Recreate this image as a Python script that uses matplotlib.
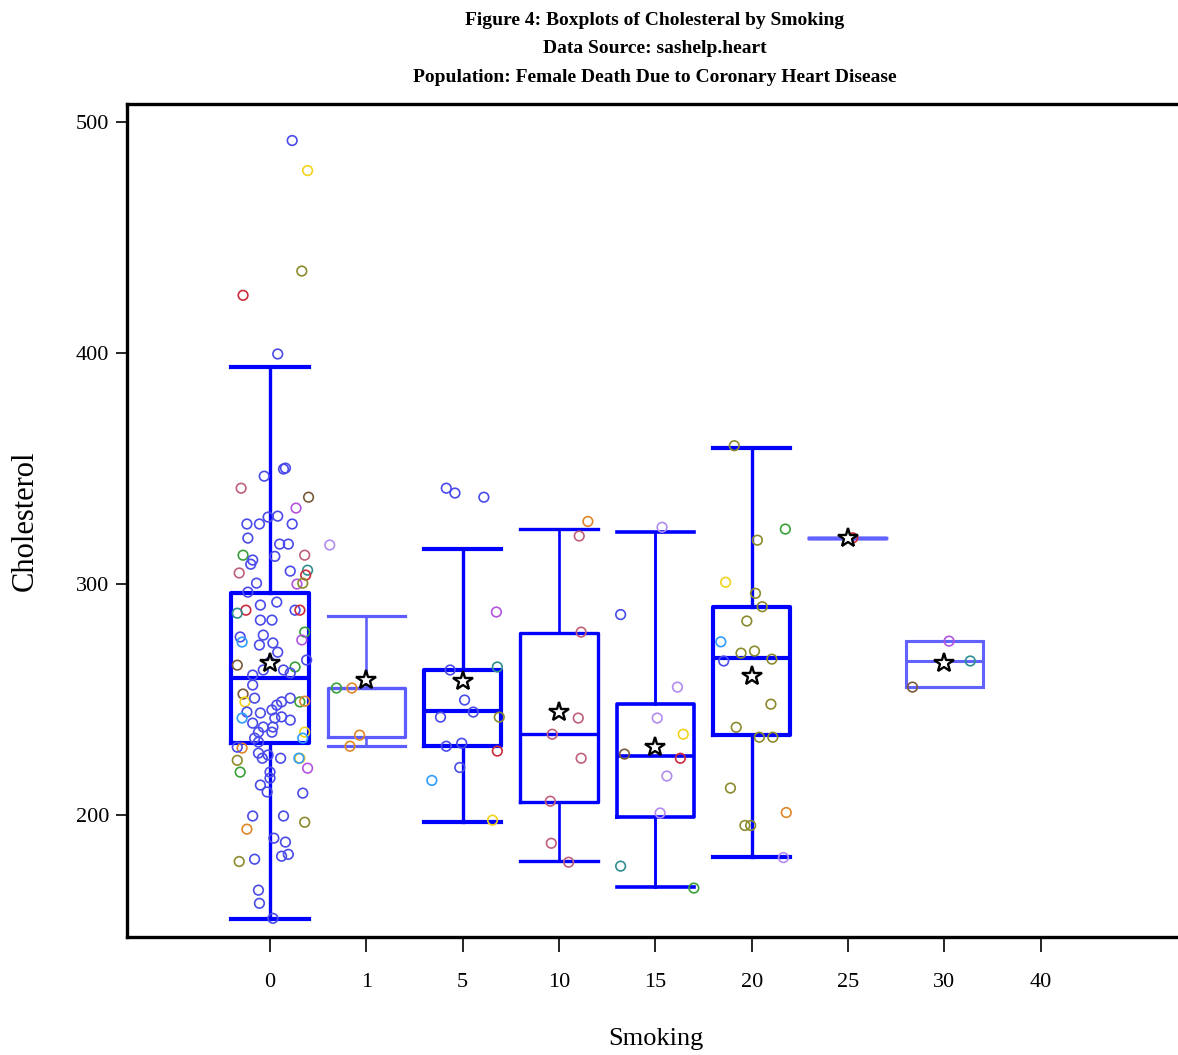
import matplotlib
matplotlib.use("Agg")
import matplotlib.pyplot as plt

# smoking levels (tick labels) and box statistics
smoking = ['0', '1', '5', '10', '15', '20', '25', '30', '40']
box_levels = ['0', '1', '5', '10', '15', '20', '25', '30']
whis_lo = [155, 230, 197, 180, 169, 182, 320, 255.4]
q1 = [231, 234, 230, 205.6, 199, 234.6, 320, 255.4]
median = [259.3, 255, 245, 235, 225.5, 268, 320, 266.7]
q3 = [296, 255, 263, 279, 248, 290, 320, 275.3]
whis_hi = [394, 286, 315, 324, 322.5, 359, 320, 275.3]
mean = [266, 258.5, 258, 244.6, 229.5, 260, 320, 266]

# individual cholesterol values, their horizontal jitter and colour group
chol = {
    '0': [492, 479, 435.5, 425, 399.6, 350.2, 349.8, 346.7, 341.5, 337.6, 332.9, 329.4, 329, 326, 326, 326,
          319.9, 317.3, 317.3, 312.5, 312.5, 312, 310.4, 308.6, 304.8, 306, 303.9, 305.6, 300.4, 300, 300.4,
          296.5, 290.9, 292.2, 288.7, 287.4, 288.7, 288.7, 284.4, 284.4, 277.1, 274.9, 279.2, 275.8, 277.9,
          273.6, 274.5, 270.5, 267.1, 264.9, 264.1, 266.2, 262.8, 261.5, 260.6, 262.8, 252.4, 249, 256.3,
          250.6, 247.6, 250.6, 249, 249, 249.3, 244.6, 242, 244.2, 245.5, 242, 242.5, 241.1, 239.8, 238.1,
          238.1, 235.9, 235.9, 233.3, 231.6, 235.9, 233.3, 229, 229.4, 226.8, 224.6, 226, 224.6, 224.6,
          224.6, 220.3, 223.7, 218.6, 218.6, 216, 213, 210, 209.5, 199.6, 199.6, 196.9, 193.9, 190, 188.3,
          182.2, 183, 179.9, 180.9, 167.5, 161.8, 155.3],
    '1': [316.9, 255, 255, 234.6, 229.8],
    '5': [341.5, 339.4, 337.6, 287.9, 262.8, 264.1, 249.8, 244.6, 242.4, 242.4, 229.8, 231.1, 227.7, 220.6,
          215, 197.8],
    '10': [327.1, 320.8, 279.2, 242, 235, 224.6, 206, 187.8, 179.6],
    '15': [324.6, 286.8, 255.4, 242, 235, 226.4, 224.6, 216.9, 200.9, 177.9, 168.4],
    '20': [359.9, 323.8, 319, 300.8, 296, 290.2, 284, 275, 270.1, 271, 266.7, 267.5, 248, 238, 233.7, 233.7,
           211.7, 201.1, 195.5, 195.5, 181.6],
    '25': [320],
    '30': [275.3, 266.7, 255.4],
}
jitter = {
    '0': [0.23, 0.39, 0.33, -0.28, 0.08, 0.16, 0.14, -0.06, -0.30, 0.40, 0.27, 0.08, -0.02, -0.24, -0.11, 0.23,
          -0.23, 0.10, 0.19, -0.28, 0.36, 0.05, -0.18, -0.20, -0.32, 0.39, 0.37, 0.21, -0.14, 0.28, 0.34,
          -0.23, -0.10, 0.07, -0.25, -0.34, 0.26, 0.31, -0.10, 0.02, -0.31, -0.29, 0.36, 0.33, -0.07,
          -0.11, 0.03, 0.08, 0.38, -0.34, 0.26, 0.0, 0.14, 0.21, -0.18, -0.07, -0.28, -0.26, -0.18,
          -0.16, 0.07, 0.21, 0.12, 0.31, 0.36, -0.24, -0.29, -0.10, 0.02, 0.05, 0.12, 0.21, -0.18, -0.07,
          0.03, -0.12, 0.02, -0.16, -0.12, 0.36, 0.34, -0.29, -0.34, -0.12, -0.08, -0.02, 0.11, 0.31,
          0.30, 0.39, -0.34, -0.31, 0.0, 0.0, -0.10, -0.03, 0.34, -0.18, 0.14, 0.36, -0.24, 0.04, 0.16,
          0.12, 0.19, -0.32, -0.16, -0.12, -0.11, 0.03],
    '1': [-0.38, -0.31, -0.15, -0.07, -0.17],
    '5': [-0.17, -0.08, 0.22, 0.35, -0.13, 0.36, 0.02, 0.11, -0.23, 0.38, -0.17, -0.01, 0.36, -0.03,
          -0.32, 0.31],
    '10': [0.30, 0.21, 0.23, 0.20, -0.07, 0.23, -0.09, -0.08, 0.10],
    '15': [0.07, -0.36, 0.23, 0.02, 0.29, -0.32, 0.26, 0.12, 0.05, -0.36, 0.40],
    '20': [-0.18, 0.35, 0.06, -0.27, 0.04, 0.11, -0.05, -0.32, -0.11, 0.03, -0.29, 0.21, 0.20, -0.16, 0.08,
           0.22, -0.22, 0.36, -0.07, -0.01, 0.33],
    '25': [0.05],
    '30': [0.05, 0.27, -0.33],
}
group = {
    '0': list('byorb') + ['b', 'b', 'b', 'm', 'n', 'p', 'b', 'b', 'b', 'b', 'b', 'b', 'b', 'b', 'g', 'm', 'b',
                          'b', 'b', 'm', 't', 'r', 'b', 'b', 'p', 'o', 'b', 'b', 'b', 'r', 't', 'b', 'r', 'b',
                          'b', 'b', 'c', 'g', 'p', 'b', 'b', 'b', 'b', 'b', 'n', 'g', 'b', 'b', 'b', 'b', 'b',
                          'n', 'y', 'b', 'b', 'b', 'b', 'b', 'g', 'a', 'b', 'c', 'b', 'b', 'b', 'b', 'b', 'b',
                          'b', 'b', 'b', 'b', 'b', 'b', 'y', 'c', 'a', 'b', 'b', 'b', 'b', 'b', 'y', 'c', 'p',
                          'o', 'g', 'b', 'b', 'b', 'b', 'b', 'b', 'b', 'o', 'a', 'b', 'b', 'b', 'b', 'o', 'b',
                          'b', 'b', 'b'],
    '1': ['l', 'g', 'a', 'a', 'a'],
    '5': ['b', 'b', 'b', 'p', 'b', 't', 'b', 'b', 'b', 'o', 'b', 'b', 'r', 'b', 'c', 'y'],
    '10': ['a', 'm', 'm', 'm', 'm', 'm', 'm', 'm', 'm'],
    '15': ['l', 'b', 'l', 'l', 'y', 'n', 'r', 'l', 'l', 't', 'g'],
    '20': ['o', 'g', 'o', 'y', 'o', 'o', 'o', 'c', 'o', 'o', 'b', 'o', 'o', 'o', 'o', 'o', 'o', 'a', 'o', 'o',
           'l'],
    '25': ['r'],
    '30': ['p', 't', 'n'],
}

palette = {'b': '#4b4bea', 'y': '#f2d31c', 'o': '#8c8c2e', 'r': '#cc2b3b', 'm': '#c0607a',
           'n': '#7a5a3a', 'p': '#b455dd', 'g': '#3aa03a', 't': '#2f8f8f', 'c': '#2f9cff',
           'a': '#e0872a', 'l': '#b38cf0'}
box_color = ['#0000ff', '#5c5cff', '#0000ff', '#0000ff', '#0000ff', '#0000ff', '#6262ff', '#6262ff']
box_lw = [3.0, 2.3, 3.0, 2.4, 2.6, 3.0, 2.4, 2.2]

serif = ['Liberation Serif', 'DejaVu Serif']

fig = plt.figure(figsize=(11.78, 10.55), dpi=100)
ax = fig.add_axes([0.1078, 0.1118, 0.8982, 0.7896])

for i, lev in enumerate(box_levels):
    stats = [dict(med=median[i], q1=q1[i], q3=q3[i], whislo=whis_lo[i], whishi=whis_hi[i], mean=mean[i])]
    lw = box_lw[i]
    col = box_color[i]
    ax.bxp(stats, positions=[i], widths=0.8, capwidths=0.8, showmeans=True, showfliers=False,
           boxprops=dict(color=col, linewidth=lw),
           medianprops=dict(color=col, linewidth=lw),
           whiskerprops=dict(color=col, linewidth=lw * 0.8),
           capprops=dict(color=col, linewidth=lw),
           meanprops=dict(marker='*', markersize=15, markerfacecolor='white',
                          markeredgecolor='black', markeredgewidth=1.7, zorder=6),
           manage_ticks=False)
    xs = [i + d for d in jitter[lev]]
    ax.scatter(xs, chol[lev], s=48, facecolors='none',
               edgecolors=[palette[g] for g in group[lev]], linewidths=1.2, zorder=4)

ax.set_xlim(-1.485, 9.5)
ax.set_ylim(147.2, 507.8)
ax.set_xticks(range(len(smoking)))
ax.set_xticklabels(smoking, fontsize=16, family=serif)
ax.set_yticks([200, 300, 400, 500])
ax.set_yticklabels(['200', '300', '400', '500'], fontsize=16, family=serif)
ax.tick_params(axis='x', length=11, width=1.2, pad=15, direction='out')
ax.tick_params(axis='y', length=8, width=1.2, pad=5, direction='out')
for s in ['top', 'left', 'bottom', 'right']:
    ax.spines[s].set_linewidth(2.4)
    ax.spines[s].set_color('black')

ax.set_xlabel('Smoking', fontsize=19, family=serif, labelpad=26)
ax.set_ylabel('Cholesterol', fontsize=22, family=serif, labelpad=26)

fig.text(0.556, 0.981, 'Figure 4: Boxplots of Cholesteral by Smoking', ha='center', va='center',
         fontsize=14, fontweight='bold', family=serif)
fig.text(0.556, 0.954, 'Data Source: sashelp.heart', ha='center', va='center',
         fontsize=14, fontweight='bold', family=serif)
fig.text(0.556, 0.927, 'Population: Female Death Due to Coronary Heart Disease', ha='center', va='center',
         fontsize=14, fontweight='bold', family=serif)

fig.savefig('out.png', dpi=100)
